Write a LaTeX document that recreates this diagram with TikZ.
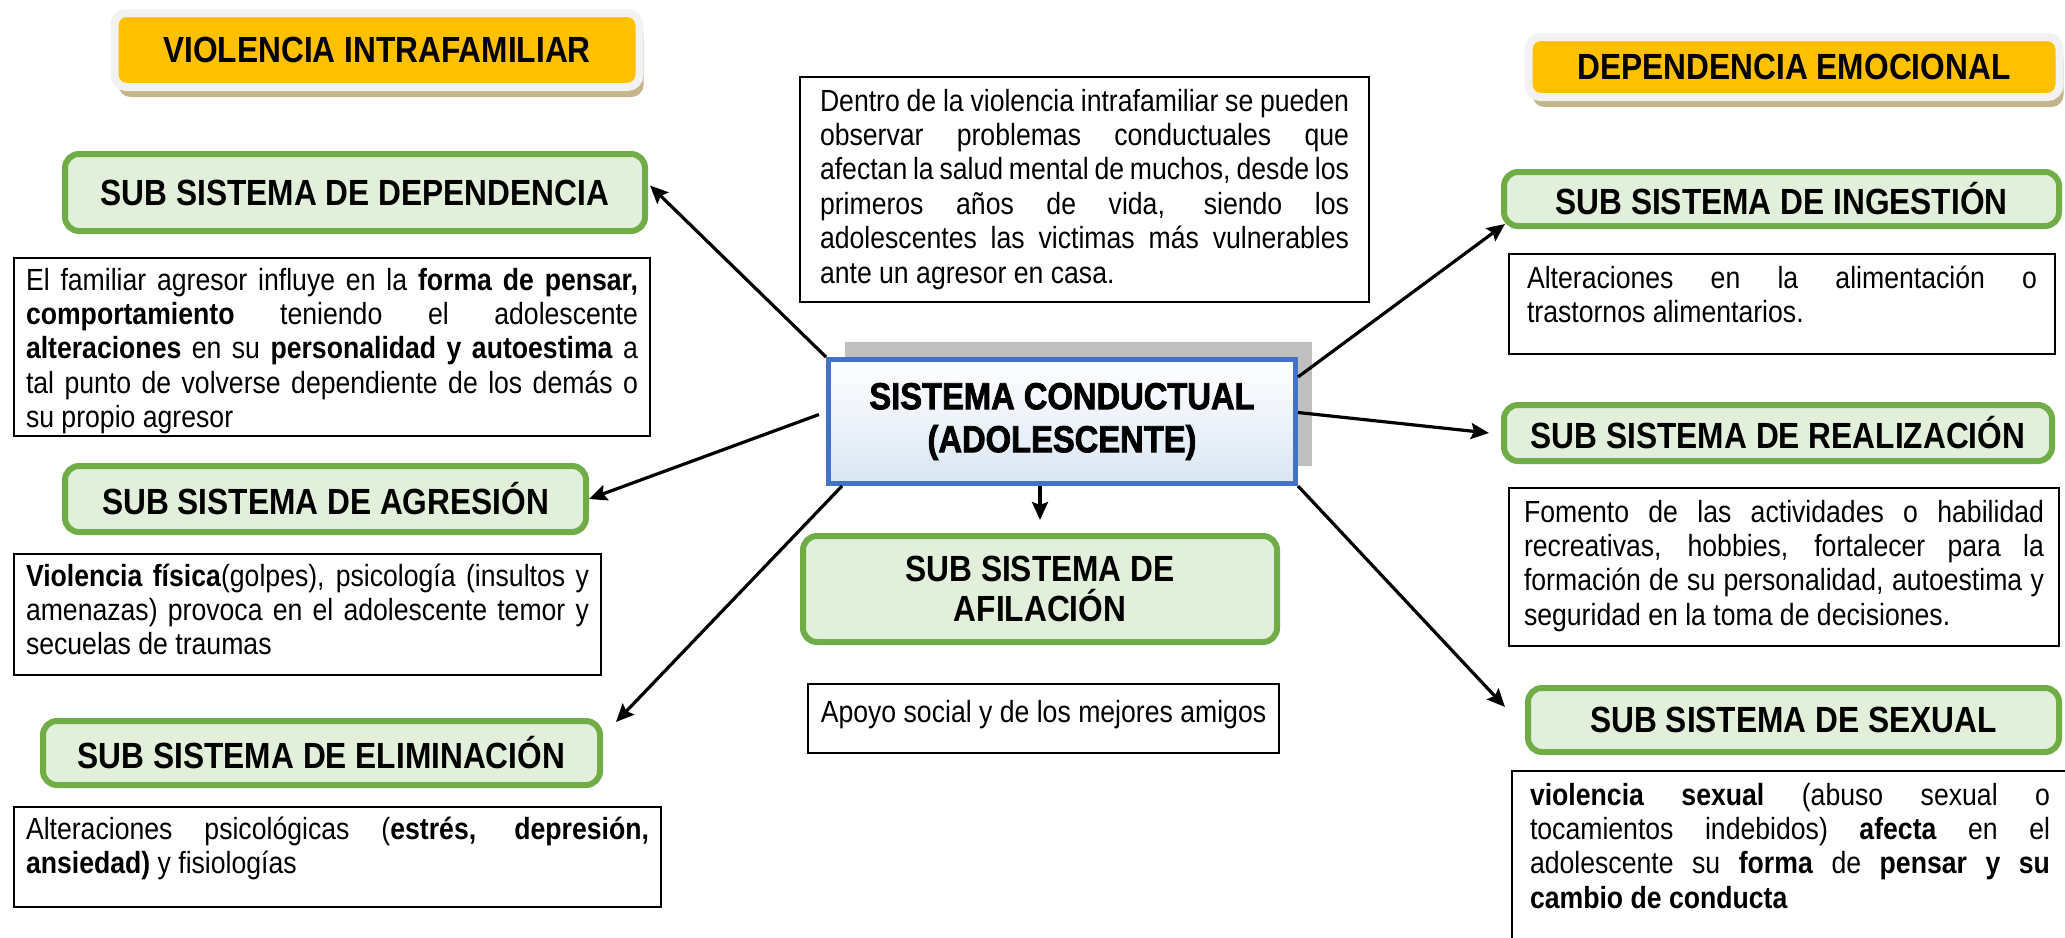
\documentclass[tikz,border=0pt]{standalone}
\usepackage{fontspec}
\setmainfont{Liberation Sans}[FakeStretch=0.87]
\newfontfamily\corefont{Liberation Sans Bold}[FakeStretch=0.87, FakeBold=2]
\usepackage{xcolor}
\usepackage{tikz}
\usetikzlibrary{arrows.meta, positioning, shadows}
\definecolor{myorange}{RGB}{255, 192, 0}
\definecolor{myrim}{RGB}{242, 242, 242}
\definecolor{mytan}{RGB}{196, 182, 138}
\definecolor{mygreen}{RGB}{112, 173, 71}
\definecolor{mylightgreen}{RGB}{226, 239, 218}
\definecolor{myblue}{RGB}{68, 114, 196}
\definecolor{mylightblue}{RGB}{218, 230, 244}
\definecolor{mygray}{RGB}{191, 191, 191}
\tolerance=9999
\hyphenpenalty=10000
\tikzset{
    header/.style={rectangle, rounded corners=6pt, fill=myorange, draw=myrim, line width=4pt,
        font=\bfseries\fontsize{18.2}{20}\selectfont,
        drop shadow={shadow xshift=2pt, shadow yshift=-5pt, fill=mytan, opacity=1}},
    subsys/.style={rectangle, rounded corners=7pt, fill=mylightgreen, draw=mygreen, line width=3pt,
        align=center, inner sep=2pt, font=\bfseries\fontsize{18.2}{20}\selectfont},
    core/.style={rectangle, draw=myblue, line width=2.5pt, top color=white, bottom color=mylightblue,
        align=center, font=\corefont\fontsize{18.8}{21.5}\selectfont,
        drop shadow={shadow xshift=8pt, shadow yshift=9pt, fill=mygray, opacity=1}},
    note/.style={rectangle, draw, line width=1pt, fill=white, anchor=north west, align=justify,
        inner ysep=0pt, inner xsep=6pt, font=\fontsize{15.3}{17.2}\selectfont},
    link/.style={-{Stealth[length=9pt, width=8pt, inset=1.5pt]}, line width=1.6pt}
}
\begin{document}
\begin{tikzpicture}[x=0.5pt, y=-0.5pt]
    \fill[white] (0,0) rectangle (2065,937);
    \useasboundingbox (0,0) rectangle (2065,937);

    % encabezados
    \node[header, minimum width=262.5pt, minimum height=37pt] (violencia) at (377,50) {VIOLENCIA INTRAFAMILIAR};
    \node[header, minimum width=265.5pt, minimum height=30pt] (emocional) at (1794,67) {DEPENDENCIA EMOCIONAL};

    % sistema central
    \node[core, minimum width=233.5pt, minimum height=62pt] (conductual) at (1062,421.5) {SISTEMA CONDUCTUAL\\(ADOLESCENTE)};

    % subsistemas izquierda
    \node[subsys, minimum width=290pt, minimum height=38.5pt] (dependencia) at (355,192.5) {SUB SISTEMA DE DEPENDENCIA};
    \node[subsys, minimum width=260.5pt, minimum height=33pt] (agresion) at (325.5,499) {SUB SISTEMA DE AGRESIÓN};
    \node[subsys, minimum width=278.5pt, minimum height=32pt] (eliminacion) at (321.5,753) {SUB SISTEMA DE ELIMINACIÓN};

    % subsistema centro
    \node[subsys, minimum width=237pt, minimum height=53pt] (afilacion) at (1040,589) {SUB SISTEMA DE\\AFILACIÓN};

    % subsistemas derecha
    \node[subsys, minimum width=277.5pt, minimum height=27pt] (ingestion) at (1781.5,199) {SUB SISTEMA DE INGESTIÓN};
    \node[subsys, minimum width=274pt, minimum height=28pt] (realizacion) at (1778,433) {SUB SISTEMA DE REALIZACIÓN};
    \node[subsys, minimum width=265.5pt, minimum height=32pt] (sexual) at (1793.5,720) {SUB SISTEMA DE SEXUAL};

    % cuadros de texto
    \node[note, text width=306pt] (txtdependencia) at (13,257) {\rule{0pt}{16pt}El familiar agresor influye en la \textbf{forma de pensar,}\linebreak
        \textbf{comportamiento} teniendo el adolescente\linebreak
        \textbf{alteraciones} en su \textbf{personalidad y autoestima} a\linebreak
        tal punto de volverse dependiente de los demás o\linebreak
        su propio agresor\rule[-4.2pt]{0pt}{4.2pt}};
    \node[note, text width=281.5pt] (txtagresion) at (13,553) {\rule{0pt}{16pt}\textbf{Violencia física}(golpes), psicología (insultos y\linebreak
        amenazas) provoca en el adolescente temor y\linebreak
        secuelas de traumas\rule[-10pt]{0pt}{10pt}};
    \node[note, text width=311.5pt] (txteliminacion) at (13,806) {\rule{0pt}{16pt}Alteraciones psicológicas (\textbf{estrés, depresión,}\linebreak
        \textbf{ansiedad)} y fisiologías\rule[-16.8pt]{0pt}{16.8pt}};
    \node[note, text width=264.5pt, inner xsep=10pt] (txtcentro) at (799,76) {\rule{0pt}{17pt}Dentro de la violencia intrafamiliar se pueden\linebreak
        observar problemas conductuales que\linebreak
        afectan la salud mental de muchos, desde los\linebreak
        primeros años de vida, siendo los\linebreak
        adolescentes las victimas más vulnerables\linebreak
        ante un agresor en casa.\rule[-9.5pt]{0pt}{9.5pt}};
    \node[note, minimum width=235.5pt, inner xsep=2pt] (txtafilacion) at (807,683) {\rule{0pt}{19pt}Apoyo social y de los mejores amigos\rule[-15.5pt]{0pt}{15.5pt}};
    \node[note, text width=255pt, inner xsep=9pt] (txtingestion) at (1508,253) {\rule{0pt}{17pt}Alteraciones en la alimentación o\linebreak
        trastornos alimentarios.\rule[-15.8pt]{0pt}{15.8pt}};
    \node[note, text width=260pt, inner xsep=7.5pt] (txtrealizacion) at (1508,487) {\rule{0pt}{17pt}Fomento de las actividades o habilidad\linebreak
        recreativas, hobbies, fortalecer para la\linebreak
        formación de su personalidad, autoestima y\linebreak
        seguridad en la toma de decisiones.\rule[-10.4pt]{0pt}{10.4pt}};
    \node[note, text width=260pt, inner xsep=9pt] (txtsexual) at (1511,770) {\rule{0pt}{17pt}\textbf{violencia sexual} (abuso sexual o\linebreak
        tocamientos indebidos) \textbf{afecta} en el\linebreak
        adolescente su \textbf{forma} de \textbf{pensar y su}\linebreak
        \textbf{cambio de conducta}\rule[-20pt]{0pt}{20pt}};

    % flechas
    \draw[link] (conductual.north west) -- ([shift={(2,-7)}]dependencia.east);
    \draw[link] ([shift={(-7,-7)}]conductual.west) -- (agresion.east);
    \draw[link] ([xshift=8pt]conductual.south west) -- ([shift={(13,4)}]eliminacion.north east);
    \draw[link] (conductual.south -| afilacion.north) -- ([yshift=6.5pt]afilacion.north);
    \draw[link] ([yshift=-10pt]conductual.north east) -- ([shift={(4,-5)}]ingestion.south west);
    \draw[link] ([yshift=4.5pt]conductual.east) -- ([xshift=-6pt]realizacion.west);
    \draw[link] (conductual.south east) -- ([shift={(-20,-13)}]sexual.west);
\end{tikzpicture}
\end{document}
